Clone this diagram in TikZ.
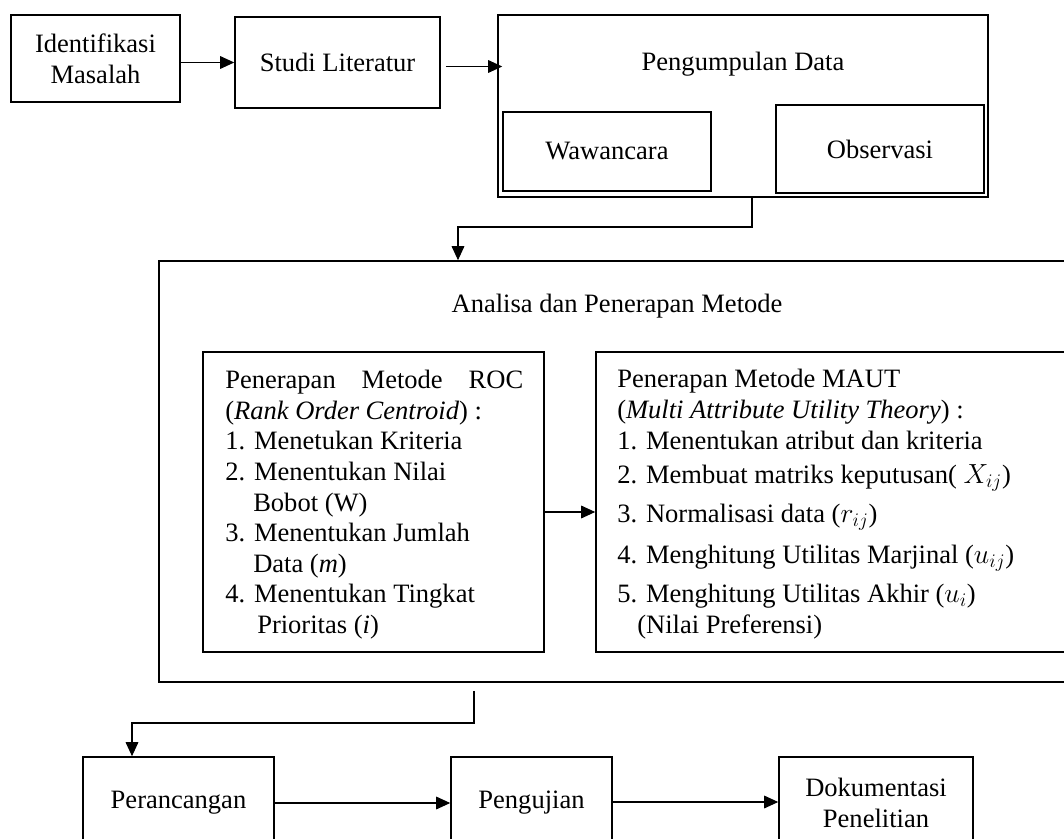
\documentclass[tikz,border=0pt]{standalone}
\usepackage{fontspec}
\setmainfont{Liberation Serif}
\usetikzlibrary{arrows.meta,calc}
\begin{document}
\begin{tikzpicture}[x=0.75pt,y=-0.75pt,
  txt/.style={font=\fontsize{19.9pt}{23pt}\selectfont},
  box/.style={draw,line width=1.2pt,rectangle,inner sep=0pt,align=center,txt},
  lbl/.style={inner sep=0pt,txt},
  arr/.style={line width=0.8pt,-{Triangle[length=10.5pt,width=9.5pt]}}]
\useasboundingbox (0,0) rectangle (1064,839);
\clip (0,0) rectangle (1064,839);
% top row
\node[box,minimum width=126.75pt,minimum height=65.25pt] (idm) at (95.5,58.5) {Identifikasi\\Masalah};
\node[box,minimum width=153.75pt,minimum height=68.25pt] (studi) at (337.5,62.5) {Studi Literatur};
\node[box,minimum width=367.5pt,minimum height=136.5pt] (pd) at (743,106) {};
\node[lbl,anchor=base] (pdt) at (743,70) {Pengumpulan Data};
\node[box,minimum width=156pt,minimum height=59.25pt] (waw) at (607,151.5) {Wawancara};
\node[box,minimum width=156pt,minimum height=66pt] (obs) at (880,149) {Observasi};
% analysis block
\node[box,minimum width=694.5pt,minimum height=315.75pt] (ana) at (622,471.5) {};
\node[lbl,anchor=base] (anat) at (617,312) {Analisa dan Penerapan Metode};
\node[box,minimum width=255.75pt,minimum height=225pt] (roc) at (373.5,502) {};
\node[box,minimum width=357pt,minimum height=225pt] (maut) at (834,502) {};
\node[lbl,anchor=north west,align=left,font=\fontsize{19.9pt}{22.95pt}\selectfont] (roct) at (225,370)
 {\makebox[223.5pt][s]{Penerapan Metode ROC}\\
  (\textit{Rank Order Centroid}) :\\
  1. Menetukan Kriteria\\
  2. Menentukan Nilai\\
  \hspace*{21pt}Bobot (W)\\
  3. Menentukan Jumlah\\
  \hspace*{21pt}Data (\textit{m})\\
  4. Menentukan Tingkat\\
  \hspace*{24pt}Prioritas (\textit{i})};
\node[lbl,anchor=north west,align=left,font=\fontsize{19.9pt}{23.25pt}\selectfont] (mautt) at (617,369)
 {Penerapan Metode MAUT\\
  (\textit{Multi Attribute Utility Theory}) :\\
  1. Menentukan atribut dan kriteria\\[2.25pt]
  2. Membuat matriks keputusan( $X_{ij}$)\\[6pt]
  3. Normalisasi data ($r_{ij}$)\\[7.5pt]
  4. Menghitung Utilitas Marjinal ($u_{ij}$)\\[6pt]
  5. Menghitung Utilitas Akhir ($u_i$)\\
  \hspace*{15pt}(Nilai Preferensi)};
% bottom row
\node[box,minimum width=143.25pt,minimum height=69pt] (per) at (178.5,803) {Perancangan};
\node[box,minimum width=120.75pt,minimum height=69pt] (peng) at (531.5,803) {Pengujian};
\node[box,minimum width=145.5pt,minimum height=69pt] (dok) at (876,803) {Dokumentasi\\Penelitian};
% connectors
\draw[arr] (idm.east |- studi.west) -- (studi.west);
\draw[arr] ([shift={(5,4)}]studi.east) -- ([shift={(5,4)}]studi.east -| pd.west);
\coordinate (j1) at (752,227);
\coordinate (j2) at (458,227);
\draw[arr] (j1 |- pd.south) -- (j1) -- (j2) -- (j2 |- ana.north);
\draw[arr] ([yshift=-7.5pt]roc.east) -- ([yshift=-7.5pt]roc.east -| maut.west);
\coordinate (k1) at (474,723);
\coordinate (k2) at (132,723);
\draw[arr] ($(ana.south -| k1)+(0,8)$) -- (k1) -- (k2) -- (k2 |- per.north);
\draw[arr] (per.east) -- (per.east -| peng.west);
\draw[arr] ([yshift=0.75pt]peng.east) -- ([yshift=0.75pt]peng.east -| dok.west);
\end{tikzpicture}
\end{document}
